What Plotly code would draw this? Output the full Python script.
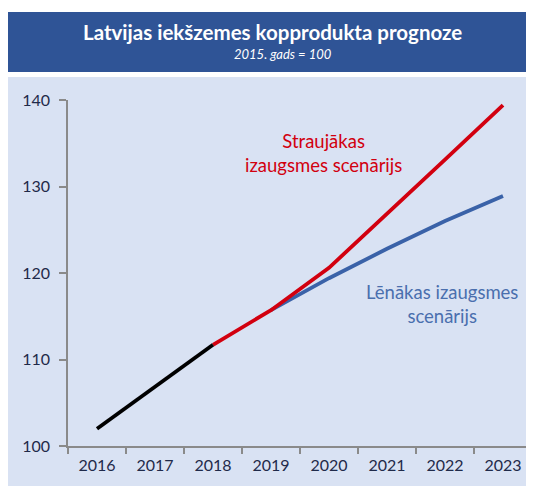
import plotly.graph_objects as go

years = ["2016", "2017", "2018", "2019", "2020", "2021", "2022", "2023"]
actual_years = ["2016", "2017", "2018"]
actual = [102.0, 106.9, 111.7]
fast_years = ["2018", "2019", "2020", "2021", "2022", "2023"]
fast = [111.7, 115.7, 120.6, 126.8, 133.1, 139.4]
slow_years = ["2019", "2020", "2021", "2022", "2023"]
slow = [115.7, 119.4, 122.8, 126.0, 128.9]
y_ticks = [100, 110, 120, 130, 140]

# page has an 8px body margin; coordinates below are in page pixels
OFF = 8
W, H = 534 - OFF, 486 - OFF
L, R, T, B = 68 - OFF, 534 - 532, 100 - OFF, 486 - 446
pw, ph = W - L - R, H - T - B

def px(x):
    return (x - OFF - L) / pw

def py(y):
    return (H - B - (y - OFF)) / ph

FONT = "Lato"
fig = go.Figure()
fig.add_trace(go.Scatter(x=slow_years, y=slow, mode="lines",
                         line=dict(color="#3A62A8", width=3.8), hoverinfo="skip"))
fig.add_trace(go.Scatter(x=fast_years, y=fast, mode="lines",
                         line=dict(color="#D2000F", width=3.8), hoverinfo="skip"))
fig.add_trace(go.Scatter(x=actual_years, y=actual, mode="lines",
                         line=dict(color="#000000", width=3.8), hoverinfo="skip"))

shapes = [
    dict(type="rect", xref="paper", yref="paper", x0=px(0), x1=px(540), y0=py(0), y1=py(77),
         fillcolor="white", line=dict(width=0), layer="below"),
    dict(type="rect", xref="paper", yref="paper", x0=px(0), x1=px(540), y0=py(12), y1=py(72),
         fillcolor="#2F5496", line=dict(width=0), layer="below"),
]

def ann(text, x, y, size, color):
    return dict(text=text, xref="paper", yref="paper", x=px(x), y=py(y),
                xanchor="center", yanchor="middle", showarrow=False, align="center",
                font=dict(family=FONT, size=size, color=color))

annotations = [
    ann("<b>Latvijas iekšzemes kopprodukta prognoze</b>", 272, 32, 20.5, "white"),
    ann("<i>2015. gads = 100</i>", 283, 54, 13, "white"),
    ann("Straujākas<br>izaugsmes scenārijs", 323, 152.5, 18.5, "#D2000F"),
    ann("Lēnākas izaugsmes<br>scenārijs", 442, 303.5, 18.5, "#4A6FAE"),
]

fig.update_layout(
    width=W, height=H,
    margin=dict(l=L, r=R, t=T, b=B),
    paper_bgcolor="#D9E2F3", plot_bgcolor="rgba(0,0,0,0)",
    showlegend=False, shapes=shapes, annotations=annotations,
    font=dict(family=FONT, size=16, color="#1F2A4A"),
)
fig.update_xaxes(type="category", categoryorder="array", categoryarray=years,
                 range=[-0.5, 7.5], showgrid=False, zeroline=False,
                 showline=True, linecolor="#8A8A8A", linewidth=1.5,
                 ticks="outside", tickson="boundaries", ticklen=6, tickcolor="#8A8A8A",
                 tickwidth=1.5, tickfont=dict(family=FONT, size=16, color="#1F2A4A"),
                 ticklabelstandoff=4)
fig.update_yaxes(range=[100, 140], tickvals=y_ticks, showgrid=False, zeroline=False,
                 showline=True, linecolor="#8A8A8A", linewidth=1.5,
                 ticks="outside", ticklen=7, tickcolor="#8A8A8A", tickwidth=1.5,
                 tickfont=dict(family=FONT, size=16, color="#1F2A4A"), ticklabelstandoff=6)

fig.write_html("out.html", config={"displayModeBar": False},
               post_script="document.body.style.overflow='hidden';")
